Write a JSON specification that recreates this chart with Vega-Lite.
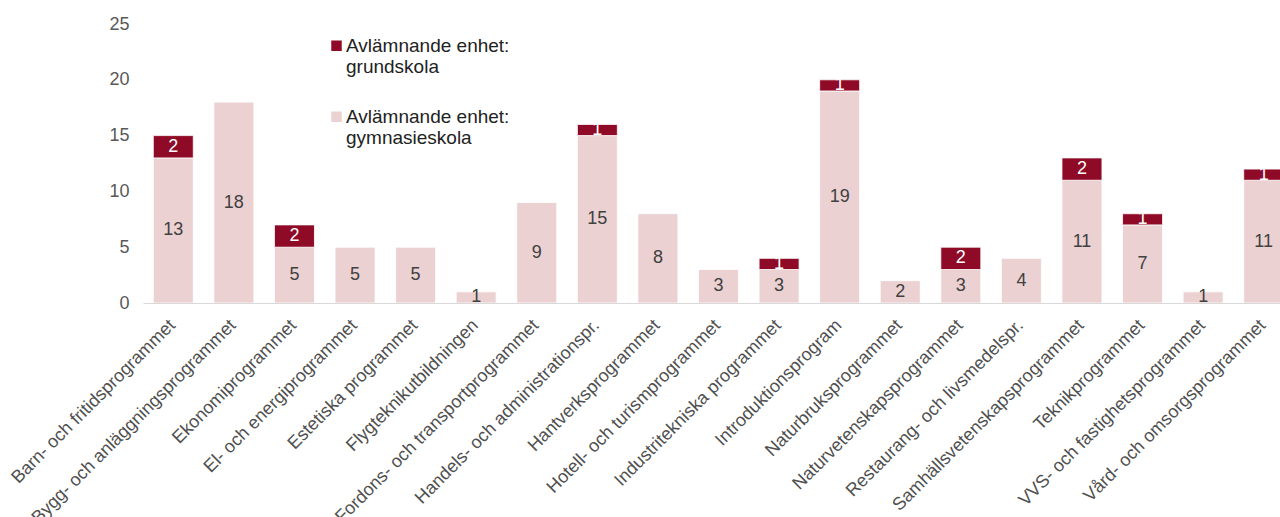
{
  "$schema": "https://vega.github.io/schema/vega-lite/v6.json",
  "width": 1137,
  "height": 279,
  "autosize": {"type": "none"},
  "padding": {"left": 143, "top": 24, "right": 0, "bottom": 214},
  "background": "white",
  "config": {
    "view": {"stroke": null},
    "font": "Liberation Sans"
  },
  "data": {
    "values": [
      {"prog": "Barn- och fritidsprogrammet", "typ": "Avlämnande enhet: gymnasieskola", "antal": 13},
      {"prog": "Barn- och fritidsprogrammet", "typ": "Avlämnande enhet: grundskola", "antal": 2},
      {"prog": "Bygg- och anläggningsprogrammet", "typ": "Avlämnande enhet: gymnasieskola", "antal": 18},
      {"prog": "Ekonomiprogrammet", "typ": "Avlämnande enhet: gymnasieskola", "antal": 5},
      {"prog": "Ekonomiprogrammet", "typ": "Avlämnande enhet: grundskola", "antal": 2},
      {"prog": "El- och energiprogrammet", "typ": "Avlämnande enhet: gymnasieskola", "antal": 5},
      {"prog": "Estetiska programmet", "typ": "Avlämnande enhet: gymnasieskola", "antal": 5},
      {"prog": "Flygteknikutbildningen", "typ": "Avlämnande enhet: gymnasieskola", "antal": 1},
      {"prog": "Fordons- och transportprogrammet", "typ": "Avlämnande enhet: gymnasieskola", "antal": 9},
      {"prog": "Handels- och administrationspr.", "typ": "Avlämnande enhet: gymnasieskola", "antal": 15},
      {"prog": "Handels- och administrationspr.", "typ": "Avlämnande enhet: grundskola", "antal": 1},
      {"prog": "Hantverksprogrammet", "typ": "Avlämnande enhet: gymnasieskola", "antal": 8},
      {"prog": "Hotell- och turismprogrammet", "typ": "Avlämnande enhet: gymnasieskola", "antal": 3},
      {"prog": "Industritekniska programmet", "typ": "Avlämnande enhet: gymnasieskola", "antal": 3},
      {"prog": "Industritekniska programmet", "typ": "Avlämnande enhet: grundskola", "antal": 1},
      {"prog": "Introduktionsprogram", "typ": "Avlämnande enhet: gymnasieskola", "antal": 19},
      {"prog": "Introduktionsprogram", "typ": "Avlämnande enhet: grundskola", "antal": 1},
      {"prog": "Naturbruksprogrammet", "typ": "Avlämnande enhet: gymnasieskola", "antal": 2},
      {"prog": "Naturvetenskapsprogrammet", "typ": "Avlämnande enhet: gymnasieskola", "antal": 3},
      {"prog": "Naturvetenskapsprogrammet", "typ": "Avlämnande enhet: grundskola", "antal": 2},
      {"prog": "Restaurang- och livsmedelspr.", "typ": "Avlämnande enhet: gymnasieskola", "antal": 4},
      {"prog": "Samhällsvetenskapsprogrammet", "typ": "Avlämnande enhet: gymnasieskola", "antal": 11},
      {"prog": "Samhällsvetenskapsprogrammet", "typ": "Avlämnande enhet: grundskola", "antal": 2},
      {"prog": "Teknikprogrammet", "typ": "Avlämnande enhet: gymnasieskola", "antal": 7},
      {"prog": "Teknikprogrammet", "typ": "Avlämnande enhet: grundskola", "antal": 1},
      {"prog": "VVS- och fastighetsprogrammet", "typ": "Avlämnande enhet: gymnasieskola", "antal": 1},
      {"prog": "Vård- och omsorgsprogrammet", "typ": "Avlämnande enhet: gymnasieskola", "antal": 11},
      {"prog": "Vård- och omsorgsprogrammet", "typ": "Avlämnande enhet: grundskola", "antal": 1}
    ]
  },
  "transform": [
    {"stack": "antal", "groupby": ["prog"], "sort": [{"field": "typ", "order": "descending"}], "as": ["y0", "y1"]},
    {"calculate": "(datum.y0 + datum.y1) / 2", "as": "mid"}
  ],
  "encoding": {
    "x": {
      "field": "prog",
      "type": "nominal",
      "sort": null,
      "scale": {"paddingInner": 0.34, "paddingOuter": 0.17, "range": [0, 1151]},
      "axis": {
        "title": null,
        "labelAngle": -45,
        "labelFontSize": 18,
        "labelColor": "#505050",
        "labelLimit": 400,
        "ticks": false,
        "labelPadding": 13,
        "labelOffset": -7,
        "domainColor": "#D9D9D9",
        "domainWidth": 1
      }
    }
  },
  "layer": [
    {
      "mark": {"type": "bar", "stroke": "white", "strokeWidth": 0.8, "clip": true},
      "encoding": {
        "y": {
          "field": "y1",
          "type": "quantitative",
          "scale": {"domain": [0, 25], "nice": false},
          "axis": {
            "title": null,
            "values": [0, 5, 10, 15, 20, 25],
            "grid": false,
            "domain": false,
            "ticks": false,
            "labelPadding": 14,
            "labelFontSize": 18,
            "labelColor": "#595959"
          }
        },
        "y2": {"field": "y0"},
        "color": {
          "field": "typ",
          "type": "nominal",
          "scale": {
            "domain": ["Avlämnande enhet: grundskola", "Avlämnande enhet: gymnasieskola"],
            "range": ["#8E0A26", "#EBD1D2"]
          },
          "legend": {
            "title": null,
            "orient": "none",
            "legendX": 184,
            "legendY": 18,
            "symbolType": "M-1,-2.1H1V-0.1H-1Z",
            "symbolSize": 110,
            "symbolStrokeWidth": 0,
            "labelFontSize": 19,
            "labelColor": "#222222",
            "labelBaseline": "alphabetic",
            "labelOffset": 0,
            "labelLimit": 300,
            "rowPadding": 30,
            "labelExpr": "[slice(datum.label, 0, 17), slice(datum.label, 18)]"
          }
        }
      }
    },
    {
      "mark": {"type": "text", "fontSize": 18, "baseline": "middle", "clip": true},
      "encoding": {
        "y": {"field": "mid", "type": "quantitative"},
        "text": {"field": "antal", "type": "quantitative"},
        "color": {
          "condition": {"test": "datum.typ === 'Avlämnande enhet: grundskola'", "value": "white"},
          "value": "#404040"
        }
      }
    }
  ]
}
